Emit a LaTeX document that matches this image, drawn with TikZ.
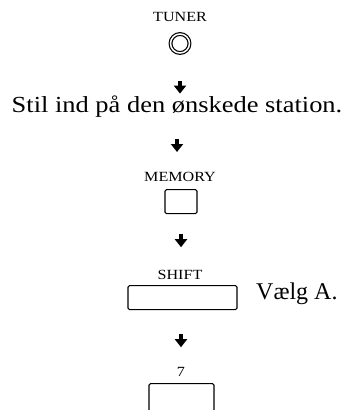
\documentclass[tikz,border=0pt]{standalone}
\usepackage{fontspec}
\setmainfont{Liberation Serif}
\newfontfamily\widefont[FakeStretch=1.15]{Liberation Serif}
\usetikzlibrary{positioning,arrows.meta}

\begin{document}
\begin{tikzpicture}[
    x=1pt, y=-1pt,
    lbl/.style={font=\widefont\fontsize{14}{14}\selectfont, inner sep=0pt, anchor=base},
    note/.style={font=\widefont\fontsize{23}{26}\selectfont, inner sep=0pt, anchor=base},
    key/.style={
        draw,
        line width=1.2pt,
        rounded corners=1.5pt,
        inner sep=0pt,
        minimum width=#1,
        minimum height=24pt,
        anchor=north
    },
    flow/.style={-{Triangle[width=12pt,length=8pt]}, line width=4pt}
]
\useasboundingbox (0,0) rectangle (344,410);
\clip (0,0) rectangle (344,410);

%-----------------------------------
% TUNER
%-----------------------------------
\node[lbl] (Ltuner) at (180,21) {TUNER};
\node[circle, draw, double, double distance=1.5pt, line width=1.2pt,
      minimum size=19pt, inner sep=0pt] (Knob) at (180,43.5) {};

%-----------------------------------
% Station text
%-----------------------------------
\node[note] (Station) at (177,112) {Stil ind på den ønskede station.};

%-----------------------------------
% MEMORY
%-----------------------------------
\node[lbl] (Lmemory) at (180,181.5) {MEMORY};
\node[key=32pt] (Memory) at ([xshift=1pt,yshift=-7.5pt]Lmemory.base) {};

%-----------------------------------
% SHIFT
%-----------------------------------
\node[lbl] (Lshift) at (180,279) {SHIFT};
\node[key=109pt] (Shift) at ([xshift=2.5pt,yshift=-6pt]Lshift.base) {};
\node[anchor=base west, inner sep=0pt, font=\fontsize{24}{26}\selectfont]
    (Choose) at (256,299.5) {Vælg A.};

%-----------------------------------
% 7
%-----------------------------------
\node[lbl] (Lseven) at (181,376) {7};
\node[key=65pt, minimum height=40pt] (Seven) at ([xshift=0.5pt,yshift=-7pt]Lseven.base) {};

%-----------------------------------
% Arrows
%-----------------------------------
\draw[flow] ([yshift=-27pt]Knob.south)   -- ([yshift=-40pt]Knob.south);
\draw[flow] ([yshift=-27pt]Station.base) -- ([yshift=-40pt]Station.base);
\draw[flow] ([yshift=-20pt]Memory.south) -- ([yshift=-33pt]Memory.south);
\draw[flow] ([xshift=-1.5pt,yshift=-24pt]Shift.south) -- ([xshift=-1.5pt,yshift=-37pt]Shift.south);

\end{tikzpicture}
\end{document}
